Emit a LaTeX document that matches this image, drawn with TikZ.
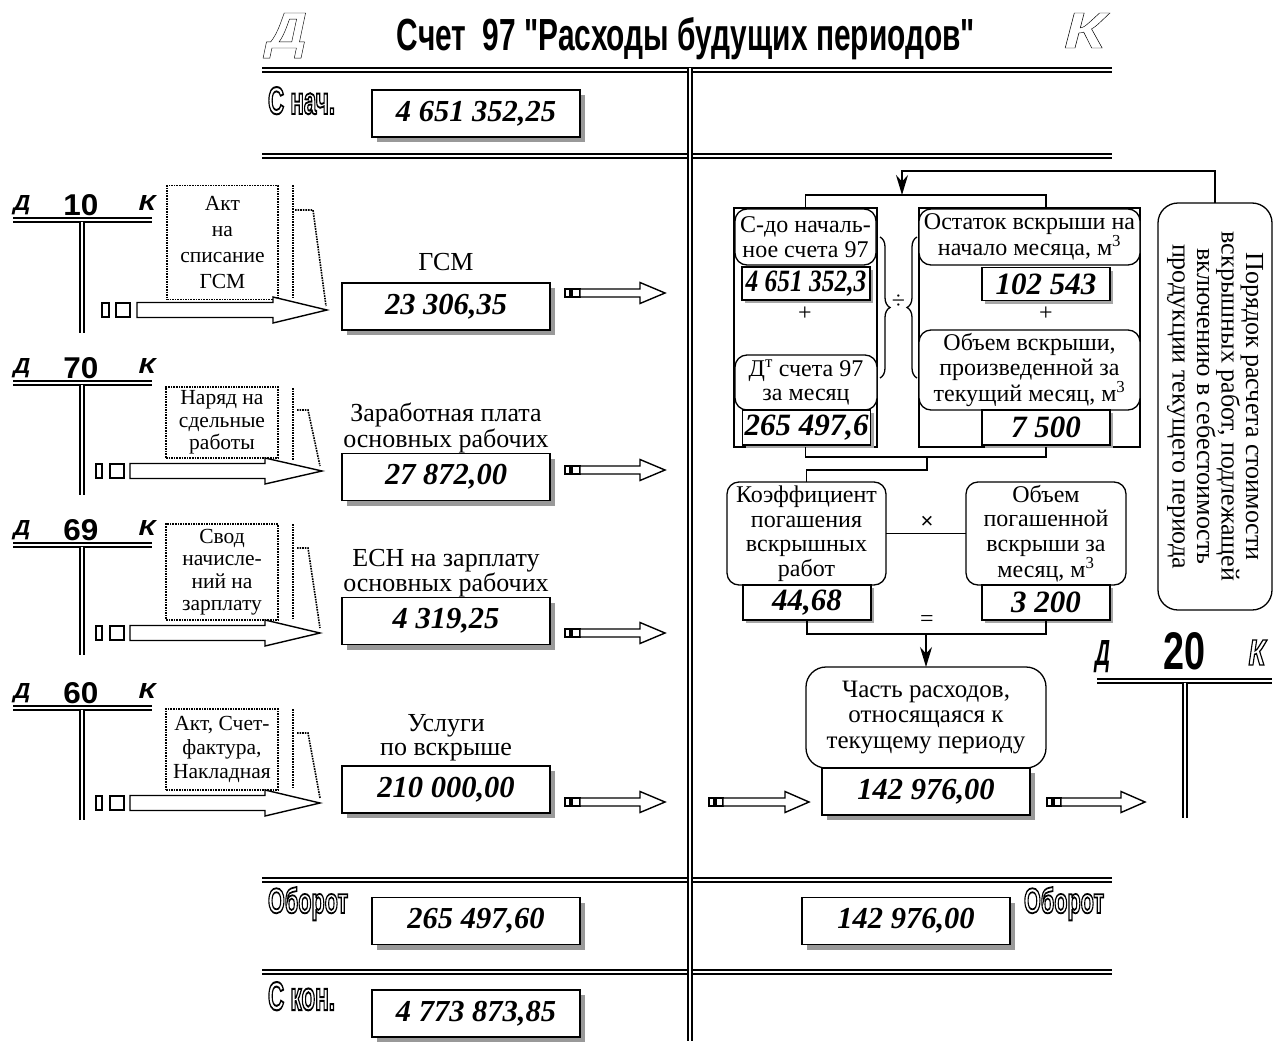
\documentclass[tikz,border=0pt]{standalone}
\usepackage{fontspec}
\setmainfont{Liberation Serif}
\newfontfamily\sansf{Liberation Sans}
\usepackage{graphicx}
\usetikzlibrary{shadows,arrows.meta,decorations.pathreplacing}

\newcommand\olt[2]{\special{pdf:literal direct 1 Tr #1 w}#2\special{pdf:literal direct 0 Tr}}
\newcommand\numfont{\fontsize{30.5}{32}\selectfont\bfseries\itshape}
\newcommand\fnumfont{\fontsize{31}{31}\selectfont\bfseries\itshape}
\newcommand\ftext{\fontsize{24}{24.5}\selectfont}
\newcommand\dtext{\fontsize{21.5}{24}\selectfont}
\newcommand\captext{\fontsize{26}{24}\selectfont}
\newcommand\vtext{\fontsize{26}{24.5}\selectfont}

\tikzset{
  mainline/.style={double, double distance=2.2pt, line width=2.2pt},
  tline/.style={double, double distance=1.6pt, line width=1.8pt},
  valbox/.style={draw, line width=1.3pt, fill=white, minimum width=208pt, minimum height=47pt, font=\numfont,
     drop shadow={shadow xshift=5pt, shadow yshift=-5pt, fill=black!40, opacity=1}},
  fval/.style={draw, line width=1.2pt, fill=white, minimum width=128pt, minimum height=33pt, font=\fnumfont,
     drop shadow={shadow xshift=3pt, shadow yshift=-3pt, fill=black!35, opacity=1}},
  rbox/.style={draw, line width=1.3pt, rounded corners=12pt, fill=white, align=center, font=\ftext},
  docbox/.style={draw, densely dotted, line width=1.6pt, align=center, font=\dtext},
  docline/.style={densely dotted, line width=1.6pt},
  conn/.style={line width=1.3pt},
  arrline/.style={line width=1.4pt, fill=white},
  captxt/.style={align=center, font=\captext},
}

\newcommand\sqb[4]{\draw[arrline] (#2,{#1-#4}) rectangle (#3,{#1+#4});}
\newcommand\barr[6]{\draw[arrline] (#2,{#1-#5}) -- (#3,{#1-#5}) -- (#3,{#1-#6}) -- (#4,#1) -- (#3,{#1+#6}) -- (#3,{#1+#5}) -- (#2,{#1+#5}) -- cycle;}
\newcommand\tacc[4]{%
  \draw[tline] (13,#3) -- (152,#3);
  \draw[tline] (82,{#3+1.5}) -- (82,#4);
  \node[anchor=base] (#1d) at (22,{#3-10}) {\resizebox{17pt}{15pt}{\sansf\bfseries\itshape Д}};
  \node[anchor=base] (#1n) at (81,{#3-5}) {\resizebox{35pt}{21pt}{\sansf\bfseries #2}};
  \node[anchor=base] (#1k) at (147,{#3-10}) {\resizebox{17pt}{15pt}{\sansf\bfseries\itshape К}};
}

\begin{document}
\begin{tikzpicture}[x=1pt,y=-1pt, every node/.style={inner sep=0pt, outer sep=0pt}]
\useasboundingbox (0,0) rectangle (1276,1041);
\fill[white] (0,0) rectangle (1276,1041);

% ---------- title ----------
\node[anchor=base] (tD) at (287,48) {\resizebox{40pt}{35pt}{\sansf\bfseries\itshape\olt{0.08}{Д}}};
\node[anchor=base] (tK) at (1085,48) {\resizebox{42pt}{35pt}{\sansf\bfseries\itshape\olt{0.08}{К}}};
\node[anchor=base] (title) at (686,50) {\resizebox{578pt}{33pt}{\sansf\bfseries Счет\ \ 97 "Расходы будущих периодов"}};

% ---------- main account ----------
\draw[mainline] (262,70) -- (1112,70);
\draw[mainline] (262,156) -- (1112,156);
\draw[mainline] (262,880) -- (1112,880);
\draw[mainline] (262,972) -- (1112,972);
\draw[mainline] (690,68) -- (690,1041);

\node[anchor=base west] (lnach) at (268,114) {\resizebox{67pt}{27pt}{\sansf\bfseries\olt{0.5}{С нач.}}};
\node[valbox] (snach) at (476,113.5) {4 651 352,25};

\node[anchor=base west] (lob1) at (268,913) {\resizebox{80pt}{26pt}{\sansf\bfseries\olt{0.5}{Оборот}}};
\node[valbox] (ob1) at (476,921) {265 497,60};
\node[valbox] (ob2) at (906,921) {142 976,00};
\node[anchor=base west] (lob2) at (1024,913) {\resizebox{80pt}{26pt}{\sansf\bfseries\olt{0.5}{Оборот}}};

\node[anchor=base west] (lkon) at (268,1010) {\resizebox{67pt}{28pt}{\sansf\bfseries\olt{0.5}{С кон.}}};
\node[valbox] (skon) at (476,1013.5) {4 773 873,85};

% ---------- left T-accounts ----------
\tacc{t10}{10}{220}{333}
\tacc{t70}{70}{383}{495}
\tacc{t69}{69}{545}{655}
\tacc{t60}{60}{708}{820}

% documents
\draw[docline] (293,185) -- (293,298);
\draw[docline] (295,210) -- (313,210) -- (326,306);
\node[docbox, minimum width=111pt, minimum height=114pt, font=\fontsize{21.5}{26}\selectfont] (doc10) at (222.5,242.5) {Акт\\на\\списание\\ГСМ};

\draw[docline] (293,388) -- (293,460);
\draw[docline] (297,410) -- (308,410) -- (320,466);
\node[docbox, minimum width=112pt, minimum height=71pt, font=\fontsize{21.5}{22.5}\selectfont] (doc70) at (222,422.5) {Наряд на\\сдельные\\работы};

\draw[docline] (293,524) -- (293,618);
\draw[docline] (297,548) -- (308,548) -- (320,628);
\node[docbox, minimum width=112pt, minimum height=96pt, font=\fontsize{21.5}{22.5}\selectfont] (doc69) at (222,572) {Свод\\начисле-\\ний на\\зарплату};

\draw[docline] (293,709) -- (293,788);
\draw[docline] (297,733) -- (308,733) -- (320,798);
\node[docbox, minimum width=112pt, minimum height=81pt, font=\fontsize{21.5}{24}\selectfont] (doc60) at (222,749.5) {Акт, Счет-\\фактура,\\Накладная};

% big block arrows
\sqb{310}{102}{109}{7} \sqb{310}{116}{130}{7} \barr{310}{137}{273}{327}{7.5}{13}
\sqb{471}{96}{102}{7} \sqb{471}{110}{124}{7} \barr{471}{130}{265}{322}{7.5}{13}
\sqb{633}{96}{102}{7} \sqb{633}{110}{124}{7} \barr{633}{130}{265}{320}{7.5}{13}
\sqb{803}{96}{102}{7} \sqb{803}{110}{124}{7} \barr{803}{130}{265}{320}{7.5}{13}

% captions and values
\node[captxt] (cGSM) at (446,262) {ГСМ};
\node[valbox] (vGSM) at (446,306.5) {23 306,35};
\node[captxt] (cZP) at (446,428) {Заработная плата\\основных рабочих};
\node[valbox] (vZP) at (446,477) {27 872,00};
\node[captxt] (cESN) at (446,573) {ЕСН на зарплату\\основных рабочих};
\node[valbox] (vESN) at (446,621) {4 319,25};
\node[captxt] (cUS) at (446,738) {Услуги\\по вскрыше};
\node[valbox] (vUS) at (446,789.5) {210 000,00};

% small block arrows
\sqb{293}{565}{570}{4} \sqb{293}{572}{580}{4} \barr{293}{580}{640}{665}{4}{10.5}
\sqb{470}{565}{570}{4} \sqb{470}{572}{580}{4} \barr{470}{580}{640}{665}{4}{10.5}
\sqb{633}{565}{570}{4} \sqb{633}{572}{580}{4} \barr{633}{580}{640}{665}{4}{10.5}
\sqb{802}{565}{570}{4} \sqb{802}{572}{580}{4} \barr{802}{580}{640}{665}{4}{10.5}
\sqb{802}{709}{714}{4} \sqb{802}{716}{723}{4} \barr{802}{723}{785}{809}{4}{10.5}
\sqb{802}{1047}{1052}{4} \sqb{802}{1054}{1061}{4} \barr{802}{1061}{1121}{1145}{4}{10.5}

% ---------- formula block ----------
\node[draw, line width=1.3pt, minimum width=143pt, minimum height=239pt] (lgrp) at (805.5,327.5) {};
\node[draw, line width=1.3pt, minimum width=221pt, minimum height=239pt] (rgrp) at (1029.5,327.5) {};

\node[rbox, minimum width=141pt, minimum height=56pt] (sdo) at (805.5,237) {С-до началь-\\ное счета 97};
\node[fval, minimum width=128pt] (sdoV) at (806,283.5) {\scalebox{0.82}[1]{4 651 352,3}};
\node[font=\ftext] (plus1) at (805,314) {+};
\node[rbox, minimum width=142pt, minimum height=55pt] (dt) at (806,382.5) {Д\textsuperscript{т} счета 97\\за месяц};
\node[fval, minimum height=35pt] (dtV) at (806.5,427.5) {265 497,6};

\node[rbox, minimum width=221pt, minimum height=56pt] (ost) at (1029.5,237) {Остаток вскрыши на\\начало месяца, м\textsuperscript{3}};
\node[fval] (ostV) at (1046,284) {102 543};
\node[font=\ftext] (plus2) at (1046,314) {+};
\node[rbox, minimum width=221pt, minimum height=80pt] (obv) at (1029.5,370) {Объем вскрыши,\\произведенной за\\текущий месяц, м\textsuperscript{3}};
\node[fval, minimum height=35pt] (obvV) at (1046,427.5) {7 500};

\draw[conn, decorate, decoration={brace, amplitude=10pt}] (880,237) -- (880,378);
\draw[conn, decorate, decoration={brace, amplitude=10pt}] (917,378) -- (917,237);
\node[font=\ftext] (div) at (898.5,302) {÷};

\coordinate (topbar) at (0,195);
\coordinate (topline) at (902,171);
\coordinate (botbar) at (0,457);
\coordinate (midbar) at (0,470);

\draw[conn] (lgrp.north) -- (lgrp.north|-topbar) -- (ostV.center|-topbar) -- (ostV.center|-rgrp.north);
\draw[conn] (lgrp.south) -- (lgrp.south|-botbar) -- (obvV.center|-botbar) -- (obvV.center|-rgrp.south);

% vertical text box
\node[draw, line width=1.3pt, rounded corners=20pt, rotate=-90, minimum width=407pt, minimum height=114pt, align=center, font=\vtext] (vt) at (1215,406.5)
  {Порядок расчета стоимости\\вскрышных работ, подлежащей\\включению в себестоимость\\продукции текущего периода};
\draw[conn, -{Stealth[length=20pt, width=12pt]}] (vt.west) -- (vt.west|-topline) -- (topline) -- (topline|-topbar);

\node[rbox, minimum width=159pt, minimum height=103pt] (koef) at (806.5,533.5) {Коэффициент\\погашения\\вскрышных\\работ};
\node[fval, minimum height=35pt] (koefV) at (807,602.5) {44,68};
\node[rbox, minimum width=160pt, minimum height=103pt] (obp) at (1046,533.5) {Объем\\погашенной\\вскрыши за\\месяц, м\textsuperscript{3}};
\node[fval, minimum height=35pt] (obpV) at (1046,602.5) {3 200};
\coordinate (mid) at (927,457);
\draw[conn] (mid) -- (mid|-midbar) -- (koef.north|-midbar) -- (koef.north);
\draw[conn] (koef.east) -- (obp.west);
\node[font=\fontsize{22}{22}\sansf] (times) at (927,522) {×};
\node[font=\ftext] (eq) at (927,621) {=};

\node[rbox, rounded corners=20pt, minimum width=240pt, minimum height=101pt, font=\fontsize{25}{25.5}\selectfont] (chast) at (926,717.5) {Часть расходов,\\относящаяся к\\текущему периоду};
\node[valbox] (chastV) at (926,791.5) {142 976,00};
\coordinate (eqbar) at (0,634);
\draw[conn] (koefV.south) -- (koefV.south|-eqbar) -- (obpV.south|-eqbar) -- (obpV.south);
\draw[conn, -{Stealth[length=20pt, width=12pt]}] (chast.north|-eqbar) -- (chast.north);

% ---------- account 20 ----------
\draw[tline] (1097,681) -- (1272,681);
\draw[tline] (1185,682.5) -- (1185,818);
\node[anchor=base] (d20) at (1103,665) {\resizebox{15pt}{25pt}{\sansf\bfseries\itshape Д}};
\node[anchor=base] (n20) at (1184,669) {\resizebox{42pt}{37pt}{\sansf\bfseries 20}};
\node[anchor=base] (k20) at (1257,665) {\resizebox{17pt}{25pt}{\sansf\bfseries\itshape\olt{0.4}{К}}};
\end{tikzpicture}
\end{document}
